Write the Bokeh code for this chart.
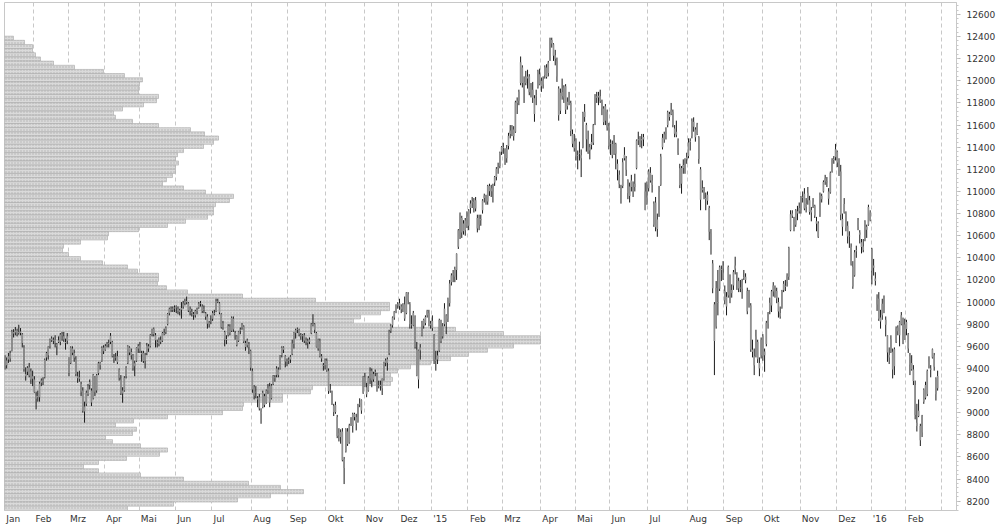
import numpy as np
from bokeh.plotting import figure
from bokeh.models import FixedTicker, SingleIntervalTicker, Range1d
from bokeh.embed import file_html
from bokeh.resources import INLINE

# ---------------- daily OHLC (DAX, 9 Jan 2014 .. 25 Feb 2016), one line per month ----------------
opens = [
    9497,9430,9480,9490,9560,9730,9725,9740,9720,9735,9710,9590,9330,9370,9410,9300,9330,
    9300,9150,9150,9140,9270,9290,9320,9500,9520,9600,9670,9650,9660,9600,9640,9640,9710,9690,9640,9650,
    9500,9450,9580,9540,9480,9330,9320,9260,9200,9010,9080,9170,9250,9200,9130,9320,9200,9360,9430,9470,9590,
    9570,9610,9620,9640,9640,9500,9500,9510,9390,9300,9200,9200,9330,9450,9590,9520,9520,9420,9470,9580,
    9610,9540,9540,9470,9540,9600,9600,9710,9760,9700,9640,9620,9660,9650,9720,9730,9800,9900,9930,9930,9950,
    9960,9940,9910,9930,9960,9990,10010,9990,9920,9900,9890,9880,9920,9950,9990,9960,9930,9900,9870,9800,9830,
    9850,9900,9920,10010,9990,9890,9770,9730,9660,9700,9780,9740,9850,9700,9690,9650,9740,9770,9780,9630,9610,9620,9560,
    9380,9230,9190,9120,9140,8990,9050,9150,9090,9200,9240,9130,9260,9320,9340,9390,9400,9520,9590,9510,9460,
    9470,9480,9530,9620,9720,9750,9750,9700,9700,9700,9640,9650,9640,9720,9800,9800,9720,9580,9650,9510,9430,9430,
    9470,9380,9200,9190,9060,9070,8960,8800,8780,8830,8500,8650,8830,8730,8900,8880,8960,8960,8920,9080,9020,9180,
    9320,9230,9200,9310,9380,9300,9360,9350,9240,9240,9220,9300,9450,9450,9540,9740,9790,9860,9920,9970,
    9990,9960,9940,9980,9900,10070,9980,9790,9790,9870,9570,9300,9590,9700,9840,9810,9880,9900,9790,
    9830,9700,9480,9480,9560,9830,9690,9800,9880,9850,9990,10180,10250,10230,10290,10500,10600,10760,10640,10650,10760,
    10690,10850,10900,10850,10920,10760,10700,10740,10830,10940,10930,10910,11050,11030,11000,11080,11130,11220,11230,11360,
    11400,11380,11300,11410,11520,11520,11560,11540,11820,11820,11980,12120,11990,11980,12020,12040,11900,11920,11700,11860,11940,12060,
    11950,12010,12050,12120,12070,12190,12370,12330,12200,12180,11930,11730,11900,11850,11950,11770,11850,11800,11520,11390,
    11460,11320,11340,11300,11400,11720,11600,11470,11370,11420,11440,11620,11860,11850,11860,11810,11750,11640,11720,11590,
    11440,11430,11340,11430,11250,11150,11030,11050,11300,11300,11100,10960,11040,11000,11070,11210,11470,11460,11460,11470,11000,10890,
    11030,11170,11100,10700,10900,10660,10790,11060,11400,11470,11520,11600,11700,11700,11720,11570,11540,11460,11210,11070,11240,11230,11290,
    11320,11450,11500,11630,11560,11520,11490,11200,11030,11000,10930,10970,10850,10620,10350,9980,9780,10000,10120,10290,10210,
    10100,9960,10060,10240,10080,10150,10330,10200,10190,10130,10120,10220,10200,10100,9970,9970,9550,9510,9520,9640,9400,9520,
    9690,9520,9620,9800,9920,9970,10150,10080,10100,10000,9870,9950,10110,10140,10180,10230,10650,10780,10750,10700,10820,10820,
    10830,10950,10980,10860,10920,10920,10810,10870,10870,10730,10590,10790,10930,11000,11090,11090,11000,10990,11180,11290,11310,
    11360,11260,11180,10680,10810,10800,10690,10600,10500,10320,10240,10460,10680,10630,10540,10470,10560,10680,10700,10810,
    10480,10330,10190,10040,10030,9860,9880,10000,9840,9700,9500,9550,9550,9420,9640,9770,9700,9800,9850,9660,
    9820,9710,9510,9450,9390,9250,8910,8970,8880,8820,9100,9250,9170,9420,9400,9500,9520,9310,9220,
]
highs = [
    9520,9500,9540,9560,9750,9755,9775,9760,9795,9765,9720,9610,9410,9420,9450,9400,9380,
    9330,9190,9200,9280,9310,9320,9490,9550,9600,9670,9690,9680,9700,9630,9690,9720,9730,9730,9670,9720,
    9500,9600,9600,9570,9510,9370,9380,9280,9230,9100,9200,9260,9300,9220,9350,9330,9350,9460,9460,9600,9610,
    9620,9640,9660,9720,9650,9530,9540,9560,9400,9340,9230,9330,9420,9610,9600,9580,9530,9470,9590,9620,
    9640,9560,9560,9540,9630,9620,9710,9760,9770,9720,9660,9680,9690,9730,9760,9780,9900,9950,9960,9960,9970,
    9970,9960,9940,10000,10010,10030,10050,10000,9960,9940,9910,9930,9950,10000,10010,9980,9970,9910,9890,9830,9880,
    9920,9930,10030,10030,10000,9900,9830,9740,9700,9800,9800,9870,9870,9740,9700,9740,9770,9810,9790,9650,9670,9640,9570,
    9400,9250,9240,9150,9170,9040,9200,9170,9210,9260,9270,9260,9340,9340,9420,9410,9520,9600,9600,9520,9490,
    9500,9520,9660,9730,9760,9770,9760,9720,9710,9720,9680,9670,9680,9810,9890,9810,9730,9670,9670,9530,9450,9490,
    9490,9400,9260,9200,9080,9100,8980,8860,8850,8860,8600,8860,8860,8900,8960,9000,9000,8990,9080,9130,9120,9330,
    9360,9270,9330,9410,9400,9370,9390,9360,9290,9290,9310,9460,9490,9500,9750,9800,9870,9920,9980,10000,
    10030,9980,9990,10050,10090,10090,10000,9880,9920,9880,9640,9570,9620,9830,9850,9880,9930,9930,9830,
    9880,9710,9560,9560,9850,9840,9810,9990,9890,10040,10200,10260,10290,10320,10440,10660,10810,10780,10740,10760,10820,
    10840,10920,10950,10940,10950,10790,10790,10790,10930,10980,10970,11060,11070,11060,11070,11140,11220,11260,11360,11410,
    11440,11390,11420,11530,11600,11600,11590,11820,11850,11920,12220,12140,12040,12090,12100,12060,11980,11990,11870,11920,12100,12110,
    12030,12040,12140,12150,12180,12390,12390,12340,12280,12210,11950,11930,12020,11960,11970,11850,11900,11820,11560,11520,
    11480,11370,11450,11380,11720,11790,11620,11550,11430,11520,11610,11880,11900,11900,11920,11830,11770,11790,11740,11620,
    11470,11460,11510,11440,11290,11190,11060,11300,11400,11320,11110,11080,11150,11090,11160,11470,11540,11500,11520,11520,11080,11090,
    11200,11220,11150,10910,10950,10800,11050,11340,11520,11540,11580,11730,11720,11800,11740,11600,11640,11480,11250,11230,11290,11300,11350,
    11480,11480,11660,11670,11580,11620,11500,11220,11100,11040,10990,11000,10870,10660,10380,10000,10190,10290,10330,10330,10370,
    10150,10090,10330,10250,10160,10290,10410,10270,10220,10200,10210,10290,10260,10130,10110,9990,9660,9580,9750,9660,9500,9680,
    9710,9580,9830,9910,10040,10110,10180,10150,10130,10040,9960,10110,10190,10200,10260,10500,10830,10830,10770,10840,10870,10900,
    10960,11000,11030,10940,11040,10960,10860,10940,10880,10770,10730,10990,10980,11100,11150,11130,11030,11180,11300,11320,11430,
    11370,11300,11240,10800,10940,10820,10730,10640,10530,10370,10470,10510,10760,10650,10570,10570,10740,10700,10880,10830,
    10490,10390,10270,10070,10090,9930,10030,10060,9870,9700,9590,9700,9580,9590,9780,9790,9830,9910,9860,9850,
    9840,9720,9540,9520,9430,9290,9080,9120,8900,8980,9220,9280,9390,9510,9430,9580,9540,9320,9380,
]
lows = [
    9390,9400,9450,9460,9555,9680,9700,9690,9705,9700,9590,9370,9290,9340,9320,9260,9240,
    9180,9030,9100,9100,9240,9250,9310,9470,9480,9580,9640,9620,9590,9520,9630,9610,9650,9640,9570,9620,
    9330,9440,9520,9460,9330,9270,9280,9150,9000,8910,9060,9150,9210,9060,9120,9150,9180,9340,9390,9460,9530,
    9560,9590,9590,9620,9500,9450,9470,9440,9290,9160,9090,9190,9310,9440,9520,9480,9380,9330,9460,9540,
    9540,9460,9450,9400,9520,9550,9590,9690,9690,9590,9590,9600,9620,9640,9700,9710,9790,9880,9910,9910,9910,
    9900,9890,9880,9850,9940,9970,9980,9910,9880,9870,9840,9860,9890,9940,9960,9900,9900,9840,9760,9770,9800,
    9830,9880,9910,9990,9890,9760,9750,9600,9620,9690,9700,9730,9730,9660,9600,9640,9710,9750,9630,9560,9590,9530,9380,
    9180,9120,9130,9050,9020,8900,9040,9050,9080,9170,9050,9120,9250,9280,9320,9320,9390,9500,9540,9410,9420,
    9440,9450,9520,9580,9670,9720,9690,9660,9640,9630,9610,9580,9620,9710,9780,9720,9590,9560,9500,9460,9380,9390,
    9370,9170,9180,9070,8970,8990,8770,8740,8720,8560,8355,8640,8700,8720,8880,8820,8930,8840,8910,9050,8990,9170,
    9230,9140,9190,9260,9230,9280,9330,9190,9220,9200,9160,9290,9420,9380,9520,9720,9770,9840,9900,9940,
    9930,9900,9910,9830,9890,9980,9760,9760,9780,9580,9330,9220,9480,9690,9760,9790,9860,9780,9760,
    9740,9440,9380,9440,9550,9630,9670,9780,9710,9820,9960,10150,10180,10180,10200,10480,10570,10580,10610,10600,10670,
    10650,10800,10850,10810,10820,10630,10650,10690,10800,10900,10880,10880,10960,10950,10900,11050,11100,11160,11210,11330,
    11340,11240,11260,11380,11480,11500,11460,11530,11700,11780,11960,11940,11800,11960,11930,11870,11850,11800,11630,11780,11930,11960,
    11900,11930,12020,12020,12040,12180,12300,12180,12140,11990,11640,11700,11830,11800,11700,11740,11780,11500,11400,11360,
    11280,11200,11280,11130,11390,11630,11360,11340,11290,11380,11420,11600,11800,11780,11800,11690,11600,11600,11550,11380,
    11330,11300,11330,11200,11100,11030,10890,11030,11280,11140,10930,10900,11000,10950,11000,11200,11420,11400,11390,11410,10830,10880,
    11000,11080,10990,10680,10640,10590,10770,11050,11380,11440,11470,11580,11640,11690,11580,11490,11490,11330,11030,10980,11160,11160,11250,
    11300,11370,11480,11540,11450,11510,11250,10830,10990,10930,10830,10880,10560,10430,10080,9340,9760,9880,10100,10190,10200,
    9980,9880,10040,9990,10040,10110,10250,10110,10090,10090,10030,10200,10170,9890,9950,9550,9500,9340,9500,9450,9330,9490,
    9470,9370,9600,9760,9890,9910,10050,10040,9990,9860,9850,9940,10090,10100,10140,10200,10640,10760,10640,10680,10740,10800,
    10800,10900,10830,10810,10880,10790,10730,10850,10760,10640,10580,10770,10900,10990,11060,11040,10880,10980,11170,11250,11280,
    11220,11140,10740,10600,10800,10640,10530,10490,10330,10120,10230,10400,10650,10530,10440,10450,10550,10580,10690,10730,
    10160,10240,10150,9920,9830,9760,9840,9900,9690,9460,9440,9540,9310,9340,9630,9700,9600,9790,9620,9660,
    9700,9540,9340,9380,9250,8940,8830,8960,8699,8780,9080,9120,9150,9400,9320,9490,9380,9110,9200,
]
closes = [
    9421,9473,9511,9540,9734,9717,9742,9716,9730,9721,9631,9392,9349,9406,9336,9374,9306,
    9186,9127,9140,9265,9290,9285,9478,9540,9596,9662,9656,9660,9631,9618,9656,9707,9699,9661,9631,9692,
    9358,9589,9542,9497,9350,9311,9307,9189,9017,9056,9180,9242,9277,9093,9342,9189,9338,9448,9451,9587,9556,
    9603,9623,9628,9695,9510,9490,9506,9455,9315,9173,9173,9317,9409,9600,9545,9548,9401,9446,9584,9603,
    9556,9529,9467,9521,9607,9581,9703,9754,9710,9656,9629,9659,9640,9720,9721,9768,9892,9940,9939,9943,9943,
    9950,9920,9926,9947,9987,10008,9999,9925,9938,9912,9883,9920,9932,9987,9987,9920,9938,9867,9805,9815,9833,
    9902,9902,10009,10009,9906,9772,9808,9659,9666,9783,9719,9859,9753,9720,9612,9734,9753,9797,9644,9593,9653,9593,9407,
    9210,9154,9189,9130,9038,9009,9180,9069,9199,9225,9092,9245,9334,9314,9400,9339,9510,9588,9569,9462,9470,
    9480,9507,9626,9724,9747,9758,9710,9700,9691,9651,9660,9632,9661,9799,9799,9749,9595,9661,9510,9490,9422,9474,
    9382,9195,9209,9086,9005,9005,8788,8812,8825,8571,8582,8850,8717,8886,8940,8987,8988,8902,9068,9082,9114,9326,
    9235,9166,9315,9378,9291,9351,9369,9210,9248,9252,9306,9456,9472,9484,9733,9785,9861,9915,9974,9980,
    9963,9934,9972,9851,10087,10014,9799,9799,9903,9594,9335,9564,9563,9811,9786,9865,9922,9783,9806,
    9764,9473,9469,9518,9838,9648,9782,9941,9817,10032,10168,10242,10257,10299,10436,10649,10798,10628,10710,10738,10694,
    10828,10891,10911,10905,10846,10664,10753,10752,10919,10963,10924,11050,11001,11002,11051,11131,11206,11210,11352,11401,
    11393,11280,11390,11504,11551,11582,11500,11806,11799,11901,12167,11980,11922,12036,12039,11896,11943,11847,11843,11868,12086,11966,
    12001,11967,12123,12035,12166,12375,12338,12227,12231,12039,11689,11892,11862,11939,11738,11811,11811,11547,11432,11454,
    11327,11328,11350,11327,11709,11673,11472,11351,11400,11447,11598,11853,11848,11864,11815,11750,11625,11771,11577,11413,
    11436,11328,11419,11340,11197,11064,11001,11265,11332,11197,10984,11044,11100,11040,11041,11460,11471,11472,11473,11492,10833,10945,
    11181,11099,11058,10890,10676,10747,10996,11316,11485,11517,11539,11716,11673,11735,11604,11521,11512,11347,11056,11211,11212,11257,11309,
    11443,11456,11636,11585,11490,11605,11293,10925,11014,10985,10940,10915,10636,10432,10124,9648,10128,9997,10315,10298,10259,
    10016,10048,10318,10038,10109,10271,10303,10210,10123,10131,10188,10227,10229,9916,10092,9571,9570,9428,9688,9483,9450,9660,
    9509,9553,9814,9902,9995,10098,10096,10119,10033,9915,9901,10104,10165,10147,10239,10492,10795,10801,10692,10831,10801,10850,
    10951,10951,10846,10887,10988,10815,10833,10907,10782,10708,10713,10971,10959,11085,11119,11092,10934,11169,11285,11293,11382,
    11261,11190,10789,10752,10887,10673,10592,10598,10340,10140,10450,10469,10738,10608,10498,10502,10727,10653,10860,10743,
    10283,10310,10214,9979,9849,9825,9985,9960,9794,9545,9521,9665,9391,9574,9764,9736,9822,9880,9639,9798,
    9757,9581,9434,9393,9286,8979,8879,9017,8752,8967,9207,9135,9377,9464,9388,9573,9416,9167,9331,
]

# month labels and trading sessions per month on the time axis
month_labels = ["Jan", "Feb", "Mrz", "Apr", "Mai", "Jun", "Jul", "Aug", "Sep", "Okt", "Nov", "Dez",
                "'15", "Feb", "Mrz", "Apr", "Mai", "Jun", "Jul", "Aug", "Sep", "Okt", "Nov", "Dez",
                "'16", "Feb"]
month_sessions = [17, 20, 21, 20, 21, 21, 23, 21, 22, 22, 20, 19,
                  21, 20, 22, 20, 20, 22, 23, 21, 22, 22, 21, 20,
                  20, 21]

# volume-at-price profile, from the top price bin downwards
profile_top = 12385
profile_step = 37.6
profile_volume = [
    9, 20, 28, 28, 31, 36, 49, 70, 99, 120,
    138, 135, 134, 134, 154, 152, 139, 118, 109, 111,
    128, 154, 186, 200, 214, 209, 199, 179, 173, 171,
    174, 171, 171, 168, 162, 158, 179, 201, 229, 225,
    211, 209, 209, 203, 181, 163, 134, 104, 103, 76,
    59, 58, 64, 76, 98, 123, 133, 154, 154, 153,
    162, 183, 238, 311, 385, 385, 376, 356, 349, 386,
    451, 499, 536, 536, 509, 483, 464, 446, 426, 406,
    393, 386, 388, 386, 308, 306, 278, 278, 239, 238,
    218, 163, 129, 111, 132, 128, 101, 108, 136, 163,
    155, 122, 94, 79, 94, 136, 179, 244, 276, 299,
    266, 233, 169, 123,
]

assert len(opens) == len(highs) == len(lows) == len(closes), (len(opens), len(highs), len(lows), len(closes))

# ---------------- layout constants ----------------
X0, X1 = -0.26, 549.9
Y0, Y1 = 8116, 12708
FRAME_W = 952
PX = FRAME_W / (X1 - X0)      # pixels per session
FONT = "DejaVu Sans"
FS = 9

p = figure(width=996, height=524,
           x_range=Range1d(X0, X1), y_range=Range1d(Y0, Y1),
           y_axis_location="right", output_backend="svg", toolbar_location=None,
           min_border_left=0, min_border_top=0, min_border_right=44, min_border_bottom=16)
p.margin = (2, 0, 0, 4)
p.background_fill_color = "white"
p.border_fill_color = "white"
p.outline_line_color = "#c8c8c8"

# profile
vol = np.array(profile_volume, dtype=float)
levels = profile_top - profile_step * np.arange(len(vol))
p.hbar(y=levels, left=X0, right=X0 + vol / PX, height=profile_step,
       fill_color="#dadada", line_color="#a9a9a9", line_width=0.6,
       hatch_pattern="dot", hatch_color="#b2b2b2", hatch_scale=3, hatch_weight=1)

# candles
o = np.array(opens, float); h = np.array(highs, float)
l = np.array(lows, float); c = np.array(closes, float)
xi = np.arange(len(c))
p.segment(x0=xi, y0=l, x1=xi, y1=h, line_color="#1a1a1a", line_width=1)
top = np.maximum(o, c); bot = np.minimum(o, c)
bot = np.where(top - bot < 8, top - 8, bot)
p.vbar(x=xi, width=0.95, top=top, bottom=bot, fill_color="#8f8f8f", line_color=None)

# month grid
bounds = np.cumsum(month_sessions) - 0.5
p.xgrid.ticker = FixedTicker(ticks=list(bounds))
p.xgrid.grid_line_color = "#c8c8c8"
p.xgrid.grid_line_dash = "4 3"
p.xgrid.grid_line_width = 1
p.ygrid.grid_line_color = None

# month labels left-aligned just after each boundary
cw = {"J": .295, "a": .613, "n": .634, "F": .575, "e": .615, "b": .635, "M": .863, "r": .411,
      "z": .525, "A": .684, "p": .635, "i": .278, "u": .634, "l": .278, "g": .635, "S": .635,
      "O": .787, "k": .579, "t": .392, "N": .748, "o": .612, "v": .592, "D": .770, "'": .275,
      "1": .636, "5": .636, "6": .636}
starts = [X0] + list(bounds[:-1])
label_pos = []
overrides = {}
for s, lab in zip(starts, month_labels):
    w = sum(cw.get(ch, .6) for ch in lab) * FS
    xpos = round(float(s + (1.8 + w / 2) / PX), 3)
    label_pos.append(xpos)
    overrides[xpos] = lab

xa = p.xaxis[0]
xa.ticker = FixedTicker(ticks=label_pos)
xa.major_label_overrides = overrides
xa.major_tick_line_color = None
xa.minor_tick_line_color = None
xa.major_tick_out = 0
xa.major_label_standoff = 3
xa.axis_line_color = "#c8c8c8"
xa.major_label_text_font = FONT
xa.major_label_text_font_size = f"{FS}px"
xa.major_label_text_color = "#333333"

ya = p.yaxis[0]
ya.ticker = SingleIntervalTicker(interval=200, num_minor_ticks=5)
ya.axis_line_color = "#c8c8c8"
ya.major_tick_line_color = "#b8b8b8"
ya.minor_tick_line_color = "#c8c8c8"
ya.major_tick_out = 4
ya.major_tick_in = 0
ya.minor_tick_out = 2
ya.minor_tick_in = 0
ya.major_label_standoff = 6
ya.major_label_text_font = FONT
ya.major_label_text_font_size = f"{FS}px"
ya.major_label_text_color = "#333333"

with open("out.html", "w") as f:
    f.write(file_html(p, INLINE, title="DAX"))
